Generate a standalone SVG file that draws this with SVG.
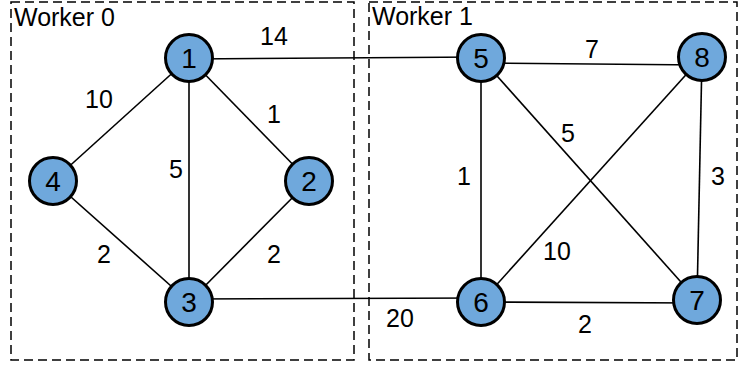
<svg xmlns="http://www.w3.org/2000/svg" width="738" height="366" viewBox="0 0 738 366">
<style>
.box{fill:none;stroke:#000;stroke-width:1.5;stroke-dasharray:9,5}
.e{stroke:#000;stroke-width:1.6;fill:none}
.n circle{fill:#6fa8dc;stroke:#000;stroke-width:3}
text{font-family:"Liberation Sans",Arial,sans-serif;font-size:25px;fill:#000}
.n text{text-anchor:middle;font-size:28px}
.l{text-anchor:middle}
</style>
<rect width="738" height="366" fill="#fff"/>
<g id="worker0"><rect class="box" x="11" y="2" width="343" height="358"/><text x="14" y="26">Worker 0</text></g>
<g id="worker1"><rect class="box" x="369" y="2" width="368" height="358"/><text x="372" y="25">Worker 1</text></g>
<g id="connectors">
<line class="e" x1="189" y1="59" x2="481" y2="57"/>
<line class="e" x1="189" y1="58" x2="53" y2="181"/>
<line class="e" x1="189" y1="58" x2="189" y2="302"/>
<line class="e" x1="189" y1="58" x2="309" y2="181"/>
<line class="e" x1="53" y1="181" x2="189" y2="302"/>
<line class="e" x1="309" y1="181" x2="189" y2="302"/>
<line class="e" x1="189" y1="299" x2="481" y2="298"/>
<line class="e" x1="481" y1="63" x2="702" y2="65"/>
<line class="e" x1="481" y1="58" x2="481" y2="302"/>
<line class="e" x1="481" y1="58" x2="697" y2="300"/>
<line class="e" x1="702" y1="57" x2="481" y2="302"/>
<line class="e" x1="702" y1="57" x2="697" y2="300"/>
<line class="e" x1="481" y1="302" x2="697" y2="303"/>
<text class="l" x="274" y="45">14</text>
<text class="l" x="99" y="108">10</text>
<text class="l" x="274" y="123">1</text>
<text class="l" x="176" y="178">5</text>
<text class="l" x="104" y="263">2</text>
<text class="l" x="274" y="263">2</text>
<text class="l" x="592" y="58">7</text>
<text class="l" x="568" y="142">5</text>
<text class="l" x="464" y="185">1</text>
<text class="l" x="718" y="185">3</text>
<text class="l" x="557" y="260">10</text>
<text class="l" x="400" y="327">20</text>
<text class="l" x="585" y="333">2</text>
</g>
<g id="node1" class="n"><circle cx="189" cy="58" r="23.5"/><text x="189" y="68">1</text></g>
<g id="node2" class="n"><circle cx="309" cy="181" r="23.5"/><text x="309" y="191">2</text></g>
<g id="node3" class="n"><circle cx="189" cy="302" r="23.5"/><text x="189" y="312">3</text></g>
<g id="node4" class="n"><circle cx="53" cy="181" r="23.5"/><text x="53" y="191">4</text></g>
<g id="node5" class="n"><circle cx="481" cy="58" r="23.5"/><text x="481" y="68">5</text></g>
<g id="node6" class="n"><circle cx="481" cy="302" r="23.5"/><text x="481" y="312">6</text></g>
<g id="node7" class="n"><circle cx="697" cy="300" r="23.5"/><text x="697" y="310">7</text></g>
<g id="node8" class="n"><circle cx="702" cy="57" r="23.5"/><text x="702" y="67">8</text></g>
</svg>
